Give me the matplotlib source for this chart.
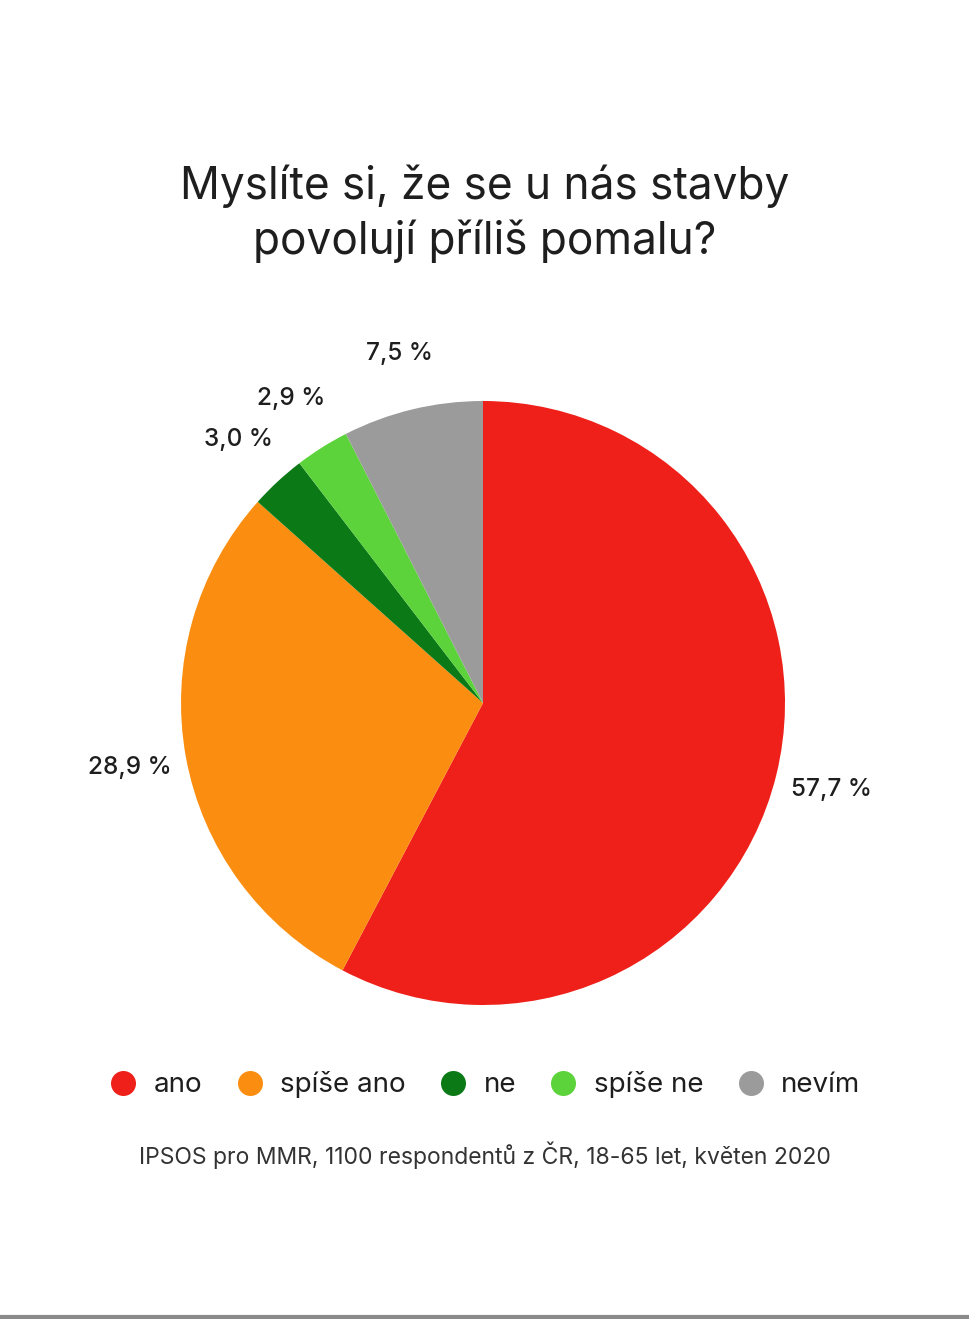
import matplotlib.pyplot as plt
from matplotlib.lines import Line2D

# --- DATA ---
categories = ["ano", "spíše ano", "ne", "spíše ne", "nevím"]
values = [57.7, 28.9, 3.0, 2.9, 7.5]
colors = ["#ee2019", "#fb8e10", "#0b7a16", "#5cd23b", "#9b9b9b"]

TITLE = "Myslíte si, že se u nás stavby\npovolují příliš pomalu?"
SOURCE = "IPSOS pro MMR, 1100 respondentů z ČR, 18-65 let, květen 2020"
TEXT_COLOR = "#1e1e1e"

plt.rcParams['font.family'] = ['Inter', 'DejaVu Sans']

W, H = 970, 1319
fig = plt.figure(figsize=(W / 100, H / 100), dpi=100)
fig.patch.set_facecolor("white")

# pie axes: center (483, 703), radius 302 px
cx, cy, r = 483, 703, 302
ax = fig.add_axes([(cx - r) / W, 1 - (cy + r) / H, 2 * r / W, 2 * r / H])
ax.pie(values, colors=colors, startangle=90, counterclock=False, radius=1,
       autopct=lambda p: f"{p:.1f}".replace('.', ',') + " %",
       pctdistance=1.19,
       textprops=dict(fontsize=17.5, color=TEXT_COLOR, weight="medium"),
       wedgeprops=dict(linewidth=0))
ax.set_xlim(-1, 1)
ax.set_ylim(-1, 1)
ax.set_aspect("equal")
ax.axis("off")

fig.text(0.5, 1 - 214 / H, TITLE, ha="center", va="center", fontsize=31.8,
         color=TEXT_COLOR, linespacing=1.32)

handles = [Line2D([], [], marker="o", linestyle="", markersize=18,
                  markerfacecolor=c, markeredgewidth=0) for c in colors]
fig.legend(handles, categories, loc="center", bbox_to_anchor=(0.5, 1 - 1085 / H),
           ncol=5, frameon=False, fontsize=20, handlelength=1.0,
           handletextpad=0.6, columnspacing=1.2, labelcolor=TEXT_COLOR)

fig.text(0.5, 1 - 1155 / H, SOURCE, ha="center", va="center", fontsize=16.5,
         color="#333333")

# thin gray border at the bottom
fig.add_artist(Line2D([0, 1], [2 / H, 2 / H], color="#8a8a8a", linewidth=3,
                      transform=fig.transFigure))

fig.savefig("out.png", dpi=100)
